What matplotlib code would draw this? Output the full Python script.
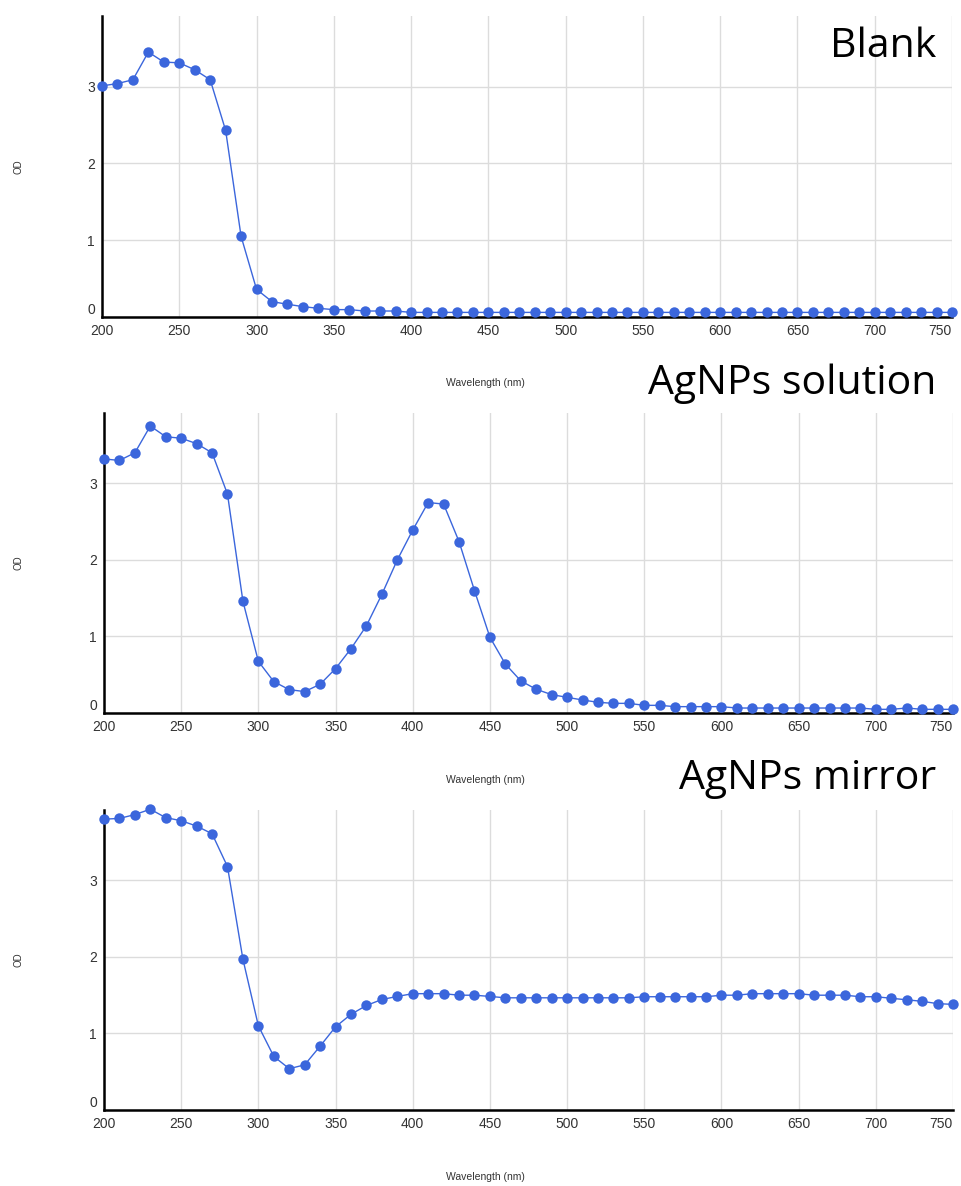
import matplotlib
matplotlib.use("Agg")
import matplotlib.pyplot as plt
import numpy as np

wavelength = list(range(200, 760, 10))

blank_od = [3.01, 3.04, 3.09, 3.45, 3.32, 3.31, 3.22, 3.09, 2.43, 1.05,
            0.36, 0.20, 0.166, 0.135, 0.113, 0.096, 0.096, 0.078, 0.078, 0.078,
            0.06, 0.06, 0.06, 0.06, 0.06, 0.06, 0.06, 0.06, 0.06, 0.06,
            0.06, 0.06, 0.06, 0.06, 0.06, 0.06, 0.06, 0.06, 0.06, 0.06,
            0.06, 0.06, 0.06, 0.06, 0.06, 0.06, 0.06, 0.06, 0.06, 0.06,
            0.06, 0.06, 0.06, 0.06, 0.06, 0.06]

solution_od = [3.32, 3.30, 3.40, 3.75, 3.61, 3.59, 3.52, 3.40, 2.86, 1.46,
               0.675, 0.41, 0.305, 0.28, 0.375, 0.58, 0.84, 1.14, 1.55, 2.00,
               2.39, 2.75, 2.73, 2.24, 1.60, 0.99, 0.64, 0.42, 0.31, 0.24,
               0.205, 0.17, 0.14, 0.126, 0.126, 0.10, 0.10, 0.083, 0.083, 0.083,
               0.083, 0.065, 0.065, 0.065, 0.065, 0.065, 0.065, 0.065, 0.065, 0.065,
               0.048, 0.048, 0.065, 0.048, 0.048, 0.048]

mirror_od = [3.80, 3.81, 3.86, 3.93, 3.82, 3.78, 3.71, 3.61, 3.18, 1.97,
             1.10, 0.70, 0.54, 0.59, 0.834, 1.087, 1.25, 1.366, 1.444, 1.484,
             1.52, 1.52, 1.52, 1.50, 1.50, 1.484, 1.466, 1.466, 1.466, 1.466,
             1.466, 1.466, 1.466, 1.466, 1.466, 1.48, 1.48, 1.48, 1.48, 1.48,
             1.50, 1.50, 1.52, 1.52, 1.52, 1.52, 1.50, 1.50, 1.50, 1.48,
             1.48, 1.46, 1.44, 1.42, 1.39, 1.38]

titles = ["Blank", "AgNPs solution", "AgNPs mirror"]
series = [blank_od, solution_od, mirror_od]
xticks = [200, 250, 300, 350, 400, 450, 500, 550, 600, 650, 700, 750]
yticks = [0, 1, 2, 3]

W, H = 961, 1186
fig = plt.figure(figsize=(W / 100, H / 100), dpi=100)
fig.patch.set_facecolor("white")

# axes boxes in pixels: left, right, top, bottom
boxes = [(102, 952, 16, 317), (104, 953, 413, 713), (104, 953, 810, 1110)]
title_y = [47, 384, 779]
xlabel_y = [383, 780, 1177]

color = "#3b66dc"
tick_font = "Liberation Sans"
for i, (l, r, t, b) in enumerate(boxes):
    ax = fig.add_axes([l / W, 1 - b / H, (r - l) / W, (b - t) / H])
    ax.plot(wavelength, series[i], color=color, lw=1.0, marker="o",
            markersize=7.5, markeredgewidth=0, clip_on=False, zorder=3)
    ax.set_xlim(200, 750)
    ax.set_ylim(0, 3.92)
    ax.set_xticks(xticks)
    ax.set_yticks(yticks)
    ax.grid(True, color="#dcdcdc", lw=1.0)
    ax.set_axisbelow(True)
    for s in ["top", "right"]:
        ax.spines[s].set_visible(False)
    ax.spines["left"].set_linewidth(1.8)
    ax.spines["bottom"].set_linewidth(1.8)
    ax.tick_params(length=0, labelsize=10, labelcolor="#333333")
    ax.tick_params(axis="x", pad=5)
    ax.tick_params(axis="y", pad=5)
    for lab in ax.get_xticklabels() + ax.get_yticklabels():
        lab.set_family(tick_font)
    yl = ax.get_yticklabels()
    yl[0].set_verticalalignment("bottom")
    yl[0].set_y(-0.02)
    xl = ax.get_xticklabels()
    xl[-1].set_horizontalalignment("right")
    xl[-1].set_x(753)
    fig.text(18 / W, 1 - ((t + b) / 2) / H, "OD", rotation=90, fontsize=7,
             color="#333333", ha="center", va="center", family=tick_font)
    fig.text(485 / W, 1 - xlabel_y[i] / H, "Wavelength (nm)", fontsize=7.5,
             color="#333333", ha="center", va="center", family=tick_font)
    fig.text(936 / W, 1 - title_y[i] / H, titles[i], fontsize=29.5,
             family="Open Sans", color="black", ha="right", va="center")

fig.savefig("out.png", dpi=100, facecolor="white")
